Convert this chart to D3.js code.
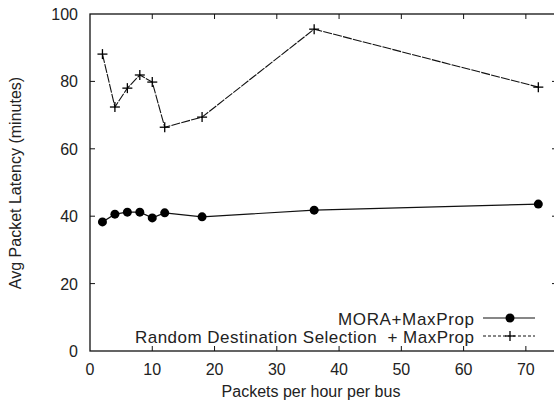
<!DOCTYPE html>
<html>
<head>
<meta charset="utf-8">
<script src="https://cdn.jsdelivr.net/npm/d3@7"></script>
<style>
	body { margin: 0; background: #fff; }
	text { font-family: "Liberation Sans", Arial, sans-serif; fill: #222; }
</style>
</head>
<body>
<div id="graph"></div>
<script>
// packets per hour per bus
var packetRates = [2, 4, 6, 8, 10, 12, 18, 36, 72];
// avg latency in minutes
var moraLatency = [38.3, 40.6, 41.2, 41.2, 39.5, 41.0, 39.8, 41.8, 43.6];
var randomLatency = [88.1, 72.4, 78.0, 81.9, 79.8, 66.4, 69.4, 95.5, 78.3];
var xTicks = [0, 10, 20, 30, 40, 50, 60, 70];
var yTicks = [0, 20, 40, 60, 80, 100];
var seriesNames = ["MORA+MaxProp", "Random Destination Selection  + MaxProp"];

var w = 554, h = 404;
var pLeft = 90, pTop = 14, pRight = 557, pBottom = 351;

var svg = d3.select("#graph").append("svg").attr("width", w).attr("height", h);

var x = d3.scaleLinear().domain([0, 75]).range([pLeft, pRight]);
var y = d3.scaleLinear().domain([0, 100]).range([pBottom, pTop]);

// frame
svg.append("rect").attr("x", pLeft).attr("y", pTop)
	.attr("width", pRight - pLeft).attr("height", pBottom - pTop)
	.attr("fill", "none").attr("stroke", "#111").attr("stroke-width", 1.3);

// inward ticks on all four sides (gnuplot style)
var tl = 5;
var ticks = svg.append("g").attr("stroke", "#111").attr("stroke-width", 1);
xTicks.forEach(function (t) {
	if (t === 0) return;
	ticks.append("line").attr("x1", x(t)).attr("x2", x(t)).attr("y1", pBottom).attr("y2", pBottom - tl);
	ticks.append("line").attr("x1", x(t)).attr("x2", x(t)).attr("y1", pTop).attr("y2", pTop + tl);
});
yTicks.forEach(function (t) {
	if (t === 0 || t === 100) return;
	ticks.append("line").attr("x1", pLeft).attr("x2", pLeft + tl).attr("y1", y(t)).attr("y2", y(t));
	ticks.append("line").attr("x1", pRight).attr("x2", pRight - tl).attr("y1", y(t)).attr("y2", y(t));
});

svg.selectAll("text.xt").data(xTicks).enter().append("text").attr("class", "xt")
	.attr("x", function (d) { return x(d); }).attr("y", pBottom + 24)
	.attr("text-anchor", "middle").attr("font-size", 16).text(function (d) { return d; });
svg.selectAll("text.yt").data(yTicks).enter().append("text").attr("class", "yt")
	.attr("x", pLeft - 12).attr("y", function (d) { return y(d) + 6; })
	.attr("text-anchor", "end").attr("font-size", 16).text(function (d) { return d; });

svg.append("text").attr("x", 311).attr("y", 397).attr("text-anchor", "middle")
	.attr("font-size", 16).text("Packets per hour per bus");
svg.append("text").attr("transform", "translate(21," + 183 + ") rotate(-90)")
	.attr("text-anchor", "middle").attr("font-size", 16).text("Avg Packet Latency (minutes)");

var line = d3.line().x(function (d) { return x(d[0]); }).y(function (d) { return y(d[1]); });
var moraPts = packetRates.map(function (r, i) { return [r, moraLatency[i]]; });
var randPts = packetRates.map(function (r, i) { return [r, randomLatency[i]]; });

svg.append("path").datum(moraPts).attr("d", line).attr("fill", "none")
	.attr("stroke", "#111").attr("stroke-width", 1.2);
svg.selectAll("circle.mora").data(moraPts).enter().append("circle").attr("class", "mora")
	.attr("cx", function (d) { return x(d[0]); }).attr("cy", function (d) { return y(d[1]); })
	.attr("r", 4.5).attr("fill", "#000");

svg.append("path").datum(randPts).attr("d", line).attr("fill", "none")
	.attr("stroke", "#111").attr("stroke-width", 1.1).attr("stroke-dasharray", "9,1.2");
function plus(g, cx, cy) {
	g.append("line").attr("x1", cx - 5).attr("x2", cx + 5).attr("y1", cy).attr("y2", cy);
	g.append("line").attr("x1", cx).attr("x2", cx).attr("y1", cy - 5).attr("y2", cy + 5);
}
var plusG = svg.append("g").attr("stroke", "#000").attr("stroke-width", 1.3);
randPts.forEach(function (d) { plus(plusG, x(d[0]), y(d[1])); });

// legend
var legX = 474, l1 = 318, l2 = 336;
svg.append("text").attr("x", legX).attr("y", l1 + 7).attr("text-anchor", "end")
	.attr("font-size", 17).attr("textLength", 136).attr("lengthAdjust", "spacing")
	.text(seriesNames[0]);
svg.append("text").attr("x", legX).attr("y", l2 + 7).attr("text-anchor", "end")
	.attr("font-size", 17).attr("textLength", 339).attr("lengthAdjust", "spacing")
	.style("white-space", "pre").text(seriesNames[1]);
svg.append("line").attr("x1", 483).attr("x2", 535).attr("y1", l1).attr("y2", l1)
	.attr("stroke", "#111").attr("stroke-width", 1.2);
svg.append("circle").attr("cx", 510).attr("cy", l1).attr("r", 4.5).attr("fill", "#000");
svg.append("line").attr("x1", 483).attr("x2", 535).attr("y1", l2).attr("y2", l2)
	.attr("stroke", "#111").attr("stroke-width", 1.1).attr("stroke-dasharray", "3,2");
plus(plusG, 510, l2);
</script>
</body>
</html>
